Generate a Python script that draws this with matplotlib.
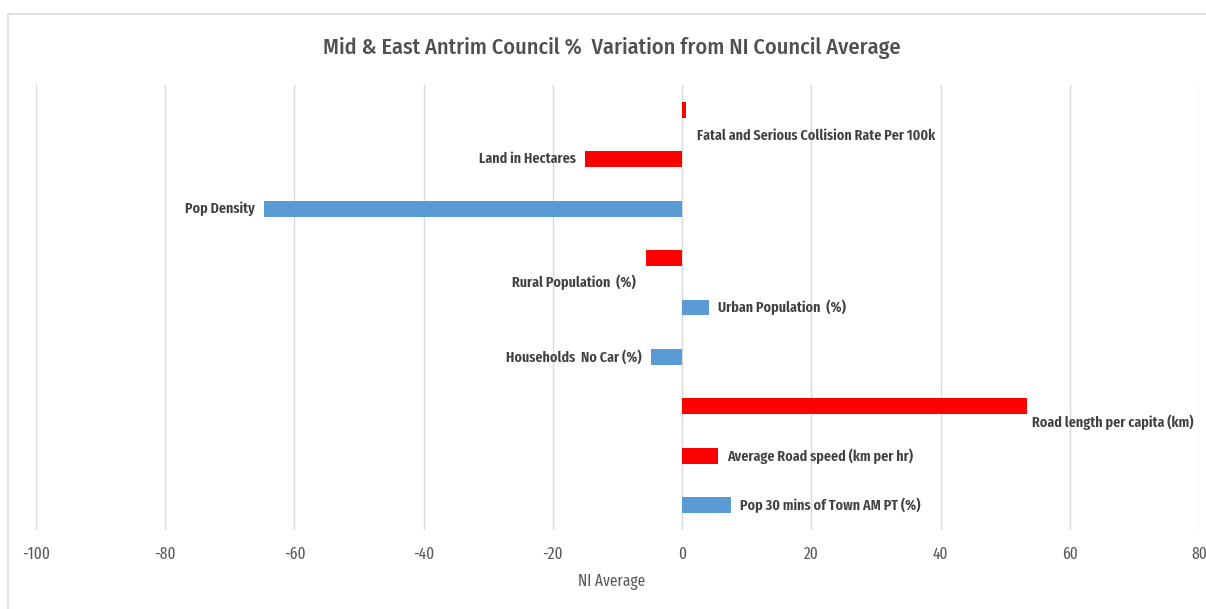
import matplotlib
matplotlib.use("Agg")
import matplotlib.pyplot as plt
from matplotlib.patches import Rectangle

categories = [
    "Fatal and Serious Collision Rate Per 100k",
    "Land in Hectares",
    "Pop Density",
    "Rural Population  (%)",
    "Urban Population  (%)",
    "Households  No Car (%)",
    "Road length per capita (km)",
    "Average Road speed (km per hr)",
    "Pop 30 mins of Town AM PT (%)",
]
values = [0.6, -15.0, -64.7, -5.6, 4.2, -4.8, 53.4, 5.6, 7.6]
groups = ["red", "red", "blue", "red", "blue", "blue", "red", "red", "blue"]
xticks = [-100, -80, -60, -40, -20, 0, 20, 40, 60, 80]

palette = {"red": "#FF0000", "blue": "#5B9BD5"}
# label layout: (dx in data units from bar end, dy in category units, ha)
label_layout = [
    (1.7, 0.53, "left"),
    (-1.4, 0.0, "right"),
    (-1.4, 0.0, "right"),
    (-1.5, 0.49, "right"),
    (1.4, 0.0, "left"),
    (-1.4, 0.0, "right"),
    (0.8, 0.33, "left"),
    (1.4, 0.0, "left"),
    (1.4, 0.0, "left"),
]

fam_lab = ["Fira Sans Extra Condensed", "Carlito", "DejaVu Sans"]
fam_title = ["Fira Sans Condensed", "Carlito", "DejaVu Sans"]
fig = plt.figure(figsize=(12.06, 6.09), dpi=100)
fig.patches.append(Rectangle((8 / 1206, -0.05), 1.2, 1 - 14 / 609 + 0.05,
                             transform=fig.transFigure, fill=False,
                             edgecolor="#D9D9D9", linewidth=1.2))
ax = fig.add_axes([36 / 1206, 1 - 530 / 609, (1199 - 36) / 1206, (530 - 85) / 609])

ypos = list(range(len(categories)))
ax.barh(ypos, values, height=0.32, color=[palette[g] for g in groups], zorder=3)
ax.set_xlim(-100, 80)
ax.set_ylim(len(categories) - 0.5, -0.5)
ax.set_xticks(xticks)
ax.set_xticklabels([str(t) for t in xticks], color="#595959", fontsize=12, family=fam_lab)
ax.set_yticks([])
ax.tick_params(axis="x", length=0, pad=12)
ax.grid(axis="x", color="#D9D9D9", linewidth=1, zorder=0)
for s in ax.spines.values():
    s.set_visible(False)

for i, (lab, v) in enumerate(zip(categories, values)):
    dx, dy, ha = label_layout[i]
    ax.text(v + dx, i + dy, lab, ha=ha, va="center", fontsize=11,
            fontweight="semibold", color="#404040", family=fam_lab, zorder=4)

fig.text(612 / 1206, 1 - 48 / 609,
         "Mid & East Antrim Council %  Variation from NI Council Average",
         ha="center", va="center", fontsize=16, fontweight="medium",
         color="#505050", family=fam_title)
fig.text(612 / 1206, 1 - 582 / 609, "NI Average", ha="center", va="center",
         fontsize=12, color="#595959", family=fam_lab)

fig.savefig("out.png", dpi=100, facecolor="white")
